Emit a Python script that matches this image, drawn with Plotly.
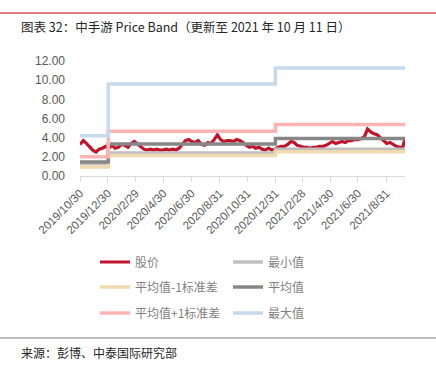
import plotly.graph_objects as go

# ---------------- data ----------------
price_dates = [
    "2019-10-30", "2019-11-06", "2019-11-13", "2019-11-20", "2019-11-27", "2019-12-04", "2019-12-11",
    "2019-12-18", "2019-12-25", "2020-01-01", "2020-01-08", "2020-01-15", "2020-01-22", "2020-01-29",
    "2020-02-05", "2020-02-12", "2020-02-19", "2020-02-26", "2020-03-04", "2020-03-11", "2020-03-18",
    "2020-03-25", "2020-04-01", "2020-04-08", "2020-04-15", "2020-04-22", "2020-04-29", "2020-05-06",
    "2020-05-13", "2020-05-20", "2020-05-27", "2020-06-03", "2020-06-10", "2020-06-17", "2020-06-24",
    "2020-07-01", "2020-07-08", "2020-07-15", "2020-07-22", "2020-07-29", "2020-08-05", "2020-08-12",
    "2020-08-19", "2020-08-26", "2020-09-02", "2020-09-09", "2020-09-16", "2020-09-23", "2020-09-30",
    "2020-10-07", "2020-10-14", "2020-10-21", "2020-10-28", "2020-11-04", "2020-11-11", "2020-11-18",
    "2020-11-25", "2020-12-02", "2020-12-09", "2020-12-16", "2020-12-23", "2020-12-30", "2021-01-06",
    "2021-01-13", "2021-01-20", "2021-01-27", "2021-02-03", "2021-02-10", "2021-02-17", "2021-02-24",
    "2021-03-03", "2021-03-10", "2021-03-17", "2021-03-24", "2021-03-31", "2021-04-07", "2021-04-14",
    "2021-04-21", "2021-04-28", "2021-05-05", "2021-05-12", "2021-05-19", "2021-05-26", "2021-06-02",
    "2021-06-09", "2021-06-16", "2021-06-23", "2021-06-30", "2021-07-07", "2021-07-14", "2021-07-21",
    "2021-07-28", "2021-08-04", "2021-08-11", "2021-08-18", "2021-08-25", "2021-09-01", "2021-09-08",
    "2021-09-15", "2021-09-22", "2021-09-29", "2021-10-06", "2021-10-11",
]
price = [
    3.3, 3.7, 3.4, 3.0, 2.7, 2.5, 2.8, 2.9, 3.1, 2.9, 3.2, 2.9, 3.0, 3.3, 3.2, 3.0, 3.4, 3.6, 3.3, 3.0,
    2.8, 2.7, 2.8, 2.7, 2.8, 2.7, 2.7, 2.8, 2.7, 2.8, 2.7, 2.9, 3.3, 3.7, 3.8, 3.6, 3.5, 3.7, 3.3, 3.2,
    3.5, 3.4, 3.8, 4.3, 3.8, 3.6, 3.7, 3.7, 3.6, 3.8, 3.7, 3.5, 3.2, 3.0, 3.1, 2.9, 3.0, 2.8, 2.7, 2.9,
    2.7, 2.8, 3.0, 3.1, 3.1, 3.3, 3.6, 3.5, 3.2, 3.1, 3.0, 3.0, 2.9, 3.0, 3.0, 3.1, 3.1, 3.2, 3.4, 3.6,
    3.4, 3.5, 3.6, 3.5, 3.7, 3.7, 3.8, 3.8, 3.9, 4.1, 4.9, 4.6, 4.4, 4.3, 4.0, 3.6, 3.4, 3.5, 3.3, 3.1,
    3.0, 3.0, 3.9,
]

band_dates = ["2019-10-30", "2019-12-31", "2020-12-31", "2021-10-11"]
band_min = [1.3, 2.4, 2.8, 2.8]
band_minus1sd = [0.95, 2.15, 2.53, 2.53]
band_mean = [1.45, 3.35, 3.92, 3.92]
band_plus1sd = [2.0, 4.68, 5.38, 5.38]
band_max = [4.2, 9.6, 11.28, 11.28]

tick_dates = ["2019-10-30", "2019-12-30", "2020-02-29", "2020-04-30", "2020-06-30", "2020-08-31",
              "2020-10-31", "2020-12-31", "2021-02-28", "2021-04-30", "2021-06-30", "2021-08-31"]
tick_labels = ["2019/10/30", "2019/12/30", "2020/2/29", "2020/4/30", "2020/6/30", "2020/8/31",
               "2020/10/31", "2020/12/31", "2021/2/28", "2021/4/30", "2021/6/30", "2021/8/31"]

title_text = "图表 32：中手游 Price Band（更新至 2021 年 10 月 11 日）"
source_text = "来源：彭博、中泰国际研究部"

# ---------------- figure ----------------
W, H = 436, 367
L, R, T, B = 80, 31, 61, 191
plot_h = H - T - B
plot_w = W - L - R

CJK = "Noto Sans CJK SC"

series = [
    ("股价", price_dates, price, "#C0142C", 3.2, "linear"),
    ("最小值", band_dates, band_min, "#BFBFBF", 3.5, "hv"),
    ("平均值-1标准差", band_dates, band_minus1sd, "#F1DAB0", 3.5, "hv"),
    ("平均值", band_dates, band_mean, "#878787", 3.5, "hv"),
    ("平均值+1标准差", band_dates, band_plus1sd, "#FFB4B4", 3.5, "hv"),
    ("最大值", band_dates, band_max, "#C6D9EE", 3.5, "hv"),
]

# legend positions (pixel x of item start, pixel y of row centre)
legend_pos = [(95, 262), (228, 262), (95, 287), (228, 287), (95, 313), (228, 313)]

fig = go.Figure()
layout_legends = {}
for i, (name, xs, ys, color, width, shape) in enumerate(series):
    lname = "legend" if i == 0 else f"legend{i+1}"
    fig.add_trace(go.Scatter(
        x=xs, y=ys, name=name, mode="lines",
        line=dict(color=color, width=width, shape=shape),
        legend=lname, showlegend=True,
    ))
    px, py = legend_pos[i]
    layout_legends[lname] = dict(
        x=(px - L) / plot_w, y=(H - B - py) / plot_h,
        xanchor="left", yanchor="middle",
        orientation="h", bgcolor="rgba(0,0,0,0)",
        font=dict(family=CJK, size=12, color="#7F7F7F"),
        itemwidth=30, tracegroupgap=0,
    )

fig.update_layout(
    width=W, height=H,
    margin=dict(l=L, r=R, t=T, b=B, pad=0),
    paper_bgcolor="white", plot_bgcolor="white",
    showlegend=True,
    **layout_legends,
    xaxis=dict(
        type="date", range=["2019-10-30", "2021-10-11"],
        tickvals=tick_dates, ticktext=tick_labels, tickangle=-45,
        showgrid=False, zeroline=False,
        showline=True, linecolor="#D9D9D9", linewidth=1,
        ticks="outside", ticklen=5, tickcolor="#D9D9D9",
        tickfont=dict(family="Liberation Sans", size=11.5, color="#595959"),
        automargin=False,
    ),
    yaxis=dict(
        range=[0, 12], tickvals=[0, 2, 4, 6, 8, 10, 12],
        ticktext=["0.00", "2.00", "4.00", "6.00", "8.00", "10.00", "12.00"],
        showgrid=False, zeroline=False, showline=False, ticks="",
        tickfont=dict(family="Liberation Sans", size=12, color="#595959"),
        ticklabelstandoff=14,
        automargin=False,
    ),
    shapes=[
        dict(type="line", xref="paper", yref="paper", x0=-L / plot_w, x1=(W - L) / plot_w,
             y0=(H - B - 13) / plot_h, y1=(H - B - 13) / plot_h,
             line=dict(color="#C00000", width=1.2)),
        dict(type="line", xref="paper", yref="paper", x0=-L / plot_w, x1=(W - L) / plot_w,
             y0=(H - B - 338) / plot_h, y1=(H - B - 338) / plot_h,
             line=dict(color="#7F7F7F", width=1.2)),
    ],
    annotations=[
        dict(text=title_text, xref="paper", yref="paper",
             x=(19 - L) / plot_w, y=(H - B - 27) / plot_h, xanchor="left", yanchor="middle",
             showarrow=False, font=dict(family=CJK, size=12.5, color="#262626")),
        dict(text=source_text, xref="paper", yref="paper",
             x=(19 - L) / plot_w, y=(H - B - 352) / plot_h, xanchor="left", yanchor="middle",
             showarrow=False, font=dict(family=CJK, size=12, color="#262626")),
    ],
)

fig.write_html("out.html", config={"displayModeBar": False},
               post_script="document.body.style.margin='0';")
